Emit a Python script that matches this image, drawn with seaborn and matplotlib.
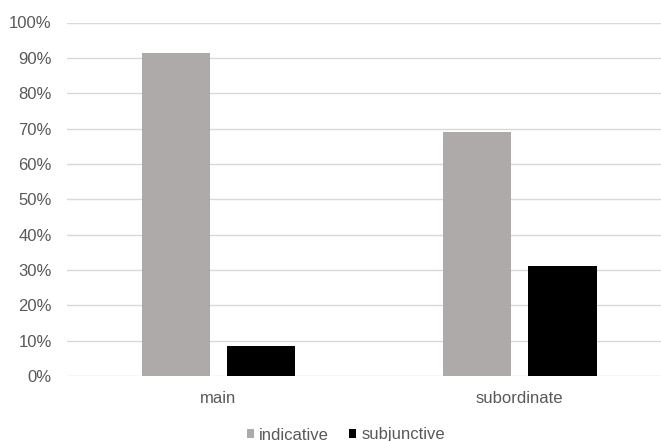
import matplotlib
matplotlib.use("Agg")
import matplotlib.pyplot as plt
import seaborn as sns
import pandas as pd
from matplotlib.ticker import MultipleLocator, PercentFormatter
from matplotlib.patches import Patch

# Share of verb moods by clause type
clauses = ["main", "subordinate"]
moods = ["indicative", "subjunctive"]
indicative = [0.914, 0.689]
subjunctive = [0.086, 0.311]

df = pd.DataFrame({
    "clause": clauses * 2,
    "mood": [moods[0]] * len(clauses) + [moods[1]] * len(clauses),
    "share": indicative + subjunctive,
})

sns.set_theme(style="white")
plt.rcParams["font.family"] = ["Liberation Sans", "DejaVu Sans"]

text_color = "#595959"
grid_color = "#D9D9D9"
palette = {"indicative": "#AEAAAA", "subjunctive": "#000000"}

fig = plt.figure(figsize=(6.61, 4.41), dpi=100)
ax = fig.add_axes([67 / 661, 65 / 441, 594 / 661, 353.5 / 441])

sns.barplot(data=df, x="clause", y="share", hue="mood", order=clauses,
            hue_order=moods, palette=palette, width=0.565, gap=0.2,
            edgecolor="none", linewidth=0, saturation=1, legend=False, ax=ax)

ax.set_xlim(-0.5013, 1.468)
ax.set_ylim(0, 1)
ax.yaxis.set_major_locator(MultipleLocator(0.1))
ax.yaxis.set_major_formatter(PercentFormatter(1.0, decimals=0))
ax.grid(axis="y", color=grid_color, linewidth=1.0)
ax.set_axisbelow(True)
for s in ax.spines.values():
    s.set_visible(False)
ax.set_xlabel("")
ax.set_ylabel("")
ax.tick_params(axis="both", length=0, labelsize=12, labelcolor=text_color)
ax.tick_params(axis="y", pad=11)
ax.tick_params(axis="x", pad=10.5)

handles = [Patch(facecolor=palette[m], edgecolor="none", label=m) for m in moods]
leg = fig.legend(handles=handles, loc="center", bbox_to_anchor=(346 / 661, 6 / 441),
                 ncol=2, frameon=False, fontsize=12, handlelength=0.44,
                 handleheight=0.44, handletextpad=0.3, columnspacing=1.2,
                 borderpad=0, borderaxespad=0)
for t in leg.get_texts():
    t.set_color(text_color)

fig.savefig("out.png", dpi=100)
